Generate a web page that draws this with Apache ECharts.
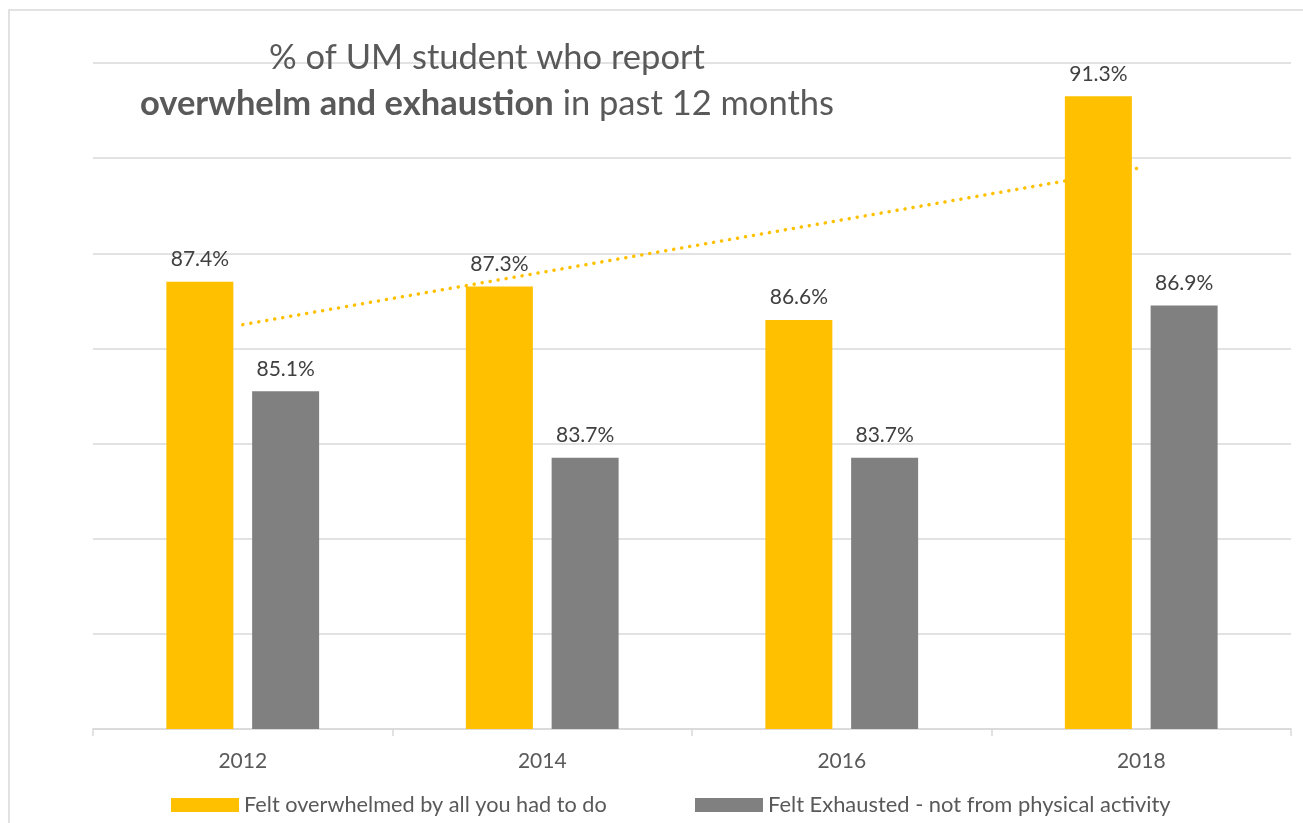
<!DOCTYPE html>
<html>
<head>
<meta charset="utf-8">
<script src="https://cdn.jsdelivr.net/npm/echarts@6/dist/echarts.min.js"></script>
<style>
html,body{margin:0;padding:0;background:#fff;}
#chart{width:1303px;height:823px;}
</style>
</head>
<body>
<div id="chart"></div>
<script>
const categories = ['2012', '2014', '2016', '2018'];
const overwhelmed = [87.4, 87.3, 86.6, 91.3];
const exhausted = [85.1, 83.7, 83.7, 86.9];
const trend = [86.5, 87.6, 88.7, 89.8];
const seriesNames = ['Felt overwhelmed by all you had to do', 'Felt Exhausted - not from physical activity'];

const FONT = 'Lato';
const chart = echarts.init(document.getElementById('chart'));
chart.setOption({
  animation: false,
  backgroundColor: '#fff',
  graphic: [{
    type: 'rect',
    shape: { x: 9, y: 10, width: 1400, height: 900 },
    style: { fill: 'none', stroke: '#D9D9D9', lineWidth: 1.5 },
    silent: true, z: -10
  }],
  title: {
    text: '% of UM student who report\n{b|overwhelm and exhaustion} in past 12 months',
    left: 487,
    top: 35,
    padding: 0,
    textAlign: 'center',
    textStyle: {
      fontFamily: FONT, fontSize: 34.5, fontWeight: 'normal', color: '#595959', lineHeight: 46,
      rich: { b: { fontFamily: FONT, fontSize: 34.5, fontWeight: 'bold', color: '#595959', lineHeight: 46 } }
    }
  },
  legend: [{
    data: [seriesNames[0]], left: 171, top: 794, padding: 0, icon: 'rect', itemWidth: 68, itemHeight: 14, itemGap: 0,
    textStyle: { fontFamily: FONT, fontSize: 21.7, color: '#595959' }
  }, {
    data: [seriesNames[1]], left: 695, top: 794, padding: 0, icon: 'rect', itemWidth: 68, itemHeight: 14, itemGap: 0,
    textStyle: { fontFamily: FONT, fontSize: 21.9, color: '#595959' }
  }],
  grid: { left: 93, right: 12, top: 63, bottom: 94 },
  xAxis: {
    type: 'category', data: categories,
    axisLine: { lineStyle: { color: '#D9D9D9', width: 1.5 } },
    axisTick: { show: true, length: 7, lineStyle: { color: '#D9D9D9', width: 1.5 } },
    axisLabel: { fontFamily: FONT, fontSize: 21, color: '#595959', margin: 22 }
  },
  yAxis: {
    type: 'value', min: 78, max: 92, interval: 2,
    axisLabel: { show: false }, axisLine: { show: false }, axisTick: { show: false },
    splitLine: { lineStyle: { color: '#D9D9D9', width: 1.5 } }
  },
  series: [{
    name: seriesNames[0], type: 'bar', data: overwhelmed, barWidth: 67, barGap: '28%', z: 3,
    itemStyle: { color: '#FFC000' },
    label: { show: true, position: 'top', distance: 12, fontFamily: FONT, fontSize: 21, color: '#404040',
      formatter: p => p.value.toFixed(1) + '%' }
  }, {
    name: seriesNames[1], type: 'bar', data: exhausted, barWidth: 67, z: 3,
    itemStyle: { color: '#808080' },
    label: { show: true, position: 'top', distance: 12, fontFamily: FONT, fontSize: 21, color: '#404040',
      formatter: p => p.value.toFixed(1) + '%' }
  }, {
    name: 'trend', type: 'line', data: trend, z: 1, symbol: 'none', silent: true,
    lineStyle: { color: '#FFC000', width: 3.5, type: [0.1, 8], cap: 'round' }
  }]
});
</script>
</body>
</html>
